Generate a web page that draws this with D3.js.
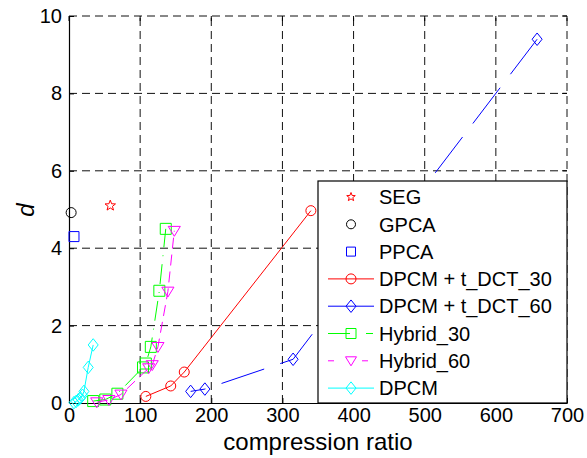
<!DOCTYPE html>
<html><head><meta charset="utf-8">
<script src="https://cdn.jsdelivr.net/npm/d3@7"></script>
<style>body{margin:0;background:#fff}svg{display:block}text{font-family:Arial,"Liberation Sans",sans-serif}</style>
</head><body>
<svg id="c" width="587" height="458"></svg>
<script>
// ---- data ----
const xTicks = [0,100,200,300,400,500,600,700];
const yTicks = [0,2,4,6,8,10];
const segPts = [[58,5.1]];
const gpcaPts = [[3,4.92]];
const ppcaPts = [[7,4.3]];
const dct30X = [108,143,162,340];
const dct30Y = [0.17,0.44,0.8,4.97];
const dct60X = [171,191,315,658];
const dct60Y = [0.3,0.36,1.13,9.4];
const hyb30X = [34,51,68,104,108,115,127,136];
const hyb30Y = [0.05,0.09,0.24,0.92,1.02,1.45,2.9,4.5];
const hyb60X = [39,56,73,112,117,125,139,148];
const hyb60Y = [0.02,0.08,0.22,0.9,0.98,1.45,2.88,4.45];
const dpcmX = [7,10,13,16,19,21,27,34];
const dpcmY = [0.01,0.04,0.08,0.13,0.2,0.3,0.92,1.5];
const legendLabels = ["SEG","GPCA","PPCA","DPCM + t_DCT_30","DPCM + t_DCT_60","Hybrid_30","Hybrid_60","DPCM"];

const zip = (a,b)=>a.map((v,i)=>[v,b[i]]);
const svg = d3.select("#c");
const L=69,R=567,T=16,B=403;
const x = d3.scaleLinear().domain([0,700]).range([L,R]);
const y = d3.scaleLinear().domain([0,10]).range([B,T]);

function mk(type, s){
  switch(type){
    case "circle": return `M${s},0A${s},${s} 0 1,1 ${-s},0A${s},${s} 0 1,1 ${s},0Z`;
    case "square": return `M${-s},${-s}H${s}V${s}H${-s}Z`;
    case "diamond": return `M0,${-s*1.25}L${s},0L0,${s*1.25}L${-s},0Z`;
    case "tri": return `M${-s*1.1},${-s*0.8}L${s*1.1},${-s*0.8}L0,${s*1.0}Z`;
    case "star": {
      let p=[];for(let i=0;i<10;i++){const r=i%2?s*0.42:s;const a=-Math.PI/2+i*Math.PI/5;p.push([r*Math.cos(a),r*Math.sin(a)]);}
      return "M"+p.map(d=>d[0].toFixed(2)+","+d[1].toFixed(2)).join("L")+"Z";}
  }
}

const series = [
  {pts:segPts,color:"#ff0000",marker:"star",size:5.5,line:false},
  {pts:gpcaPts,color:"#000000",marker:"circle",size:5,line:false},
  {pts:ppcaPts,color:"#0000ff",marker:"square",size:5,line:false},
  {pts:zip(dct30X,dct30Y),color:"#ff0000",marker:"circle",size:5,line:true,dash:null},
  {pts:zip(dct60X,dct60Y),color:"#0000ff",marker:"diamond",size:5,line:true,dash:"45,17",off:30,ldash:null},
  {pts:zip(hyb30X,hyb30Y),color:"#00ff00",marker:"square",size:5.5,line:true,dash:"20,8,1,8",ldash:"22,16,7,20"},
  {pts:zip(hyb60X,hyb60Y),color:"#ff00ff",marker:"tri",size:5.5,line:true,dash:"11,6",ldash:"6,28,6,20"},
  {pts:zip(dpcmX,dpcmY),color:"#00ffff",marker:"diamond",size:5,line:true,dash:null}
];

// grid
const g = svg.append("g");
xTicks.filter(v=>v>0).forEach(v=>{
  g.append("line").attr("x1",x(v)).attr("x2",x(v)).attr("y1",B).attr("y2",T)
   .attr("stroke","#111").attr("stroke-width",1).attr("stroke-dasharray","8,5");
});
yTicks.filter(v=>v>0).forEach(v=>{
  g.append("line").attr("x1",L).attr("x2",R).attr("y1",y(v)).attr("y2",y(v))
   .attr("stroke","#111").attr("stroke-width",1).attr("stroke-dasharray","8,5");
});

// axes
const xAxis = d3.axisBottom(x).tickValues(xTicks).tickSizeInner(-5).tickSizeOuter(0).tickPadding(5);
const yAxis = d3.axisLeft(y).tickValues(yTicks).tickSizeInner(-5).tickSizeOuter(0).tickPadding(7);
const gx = svg.append("g").attr("transform",`translate(0,${B})`).call(xAxis);
const gy = svg.append("g").attr("transform",`translate(${L},0)`).call(yAxis);
[gx,gy].forEach(a=>{
  a.select(".domain").attr("stroke","#000").attr("stroke-width",1.2);
  a.selectAll(".tick line").attr("stroke","#000");
  a.selectAll(".tick text").attr("font-size",20).attr("fill","#000").attr("font-family","Arial, 'Liberation Sans', sans-serif");
});
gx.selectAll(".tick text").attr("dy","0.71em");
xTicks.forEach(v=>svg.append("line").attr("x1",x(v)).attr("x2",x(v)).attr("y1",T).attr("y2",T+5).attr("stroke","#000"));
yTicks.forEach(v=>svg.append("line").attr("x1",R).attr("x2",R-5).attr("y1",y(v)).attr("y2",y(v)).attr("stroke","#000"));

// plot series
const lineGen = d3.line().x(d=>x(d[0])).y(d=>y(d[1]));
const plot = svg.append("g");
series.forEach(s=>{
  if(s.line){
    plot.append("path").attr("d",lineGen(s.pts)).attr("fill","none").attr("stroke",s.color)
      .attr("stroke-width",1).attr("stroke-dasharray",s.dash).attr("stroke-dashoffset",s.off||0);
  }
  plot.selectAll(null).data(s.pts).enter().append("path")
    .attr("transform",d=>`translate(${x(d[0])},${y(d[1])})`)
    .attr("d",mk(s.marker,s.size)).attr("fill","none").attr("stroke",s.color).attr("stroke-width",1);
});

// legend
const lg = svg.append("g");
const lx0=318, ly0=181, lx1=567, ly1=403;
lg.append("rect").attr("x",lx0).attr("y",ly0).attr("width",lx1-lx0).attr("height",ly1-ly0)
  .attr("fill","#fff").attr("stroke","#000").attr("stroke-width",1.2);
series.forEach((s,i)=>{
  const yy = 197 + i*27.3;
  if(s.line){
    lg.append("line").attr("x1",328).attr("x2",374).attr("y1",yy).attr("y2",yy)
      .attr("stroke",s.color).attr("stroke-width",1).attr("stroke-dasharray",s.ldash===undefined?s.dash:s.ldash);
  }
  lg.append("path").attr("transform",`translate(351,${yy})`).attr("d",mk(s.marker,s.marker==="star"?4.5:(s.line?5:4.5)))
    .attr("fill","none").attr("stroke",s.color).attr("stroke-width",1);
  lg.append("text").attr("x",379).attr("y",yy).attr("dy","0.36em").attr("font-size",20).attr("fill","#000").text(legendLabels[i]);
});

// axis labels
svg.append("text").attr("x",(L+R)/2).attr("y",450).attr("text-anchor","middle").attr("font-size",24).attr("fill","#000").text("compression ratio");
svg.append("text").attr("transform",`translate(34,210) rotate(-90)`).attr("text-anchor","middle").attr("font-size",24)
  .attr("font-style","italic").attr("fill","#000").text("d");
</script>
</body></html>
